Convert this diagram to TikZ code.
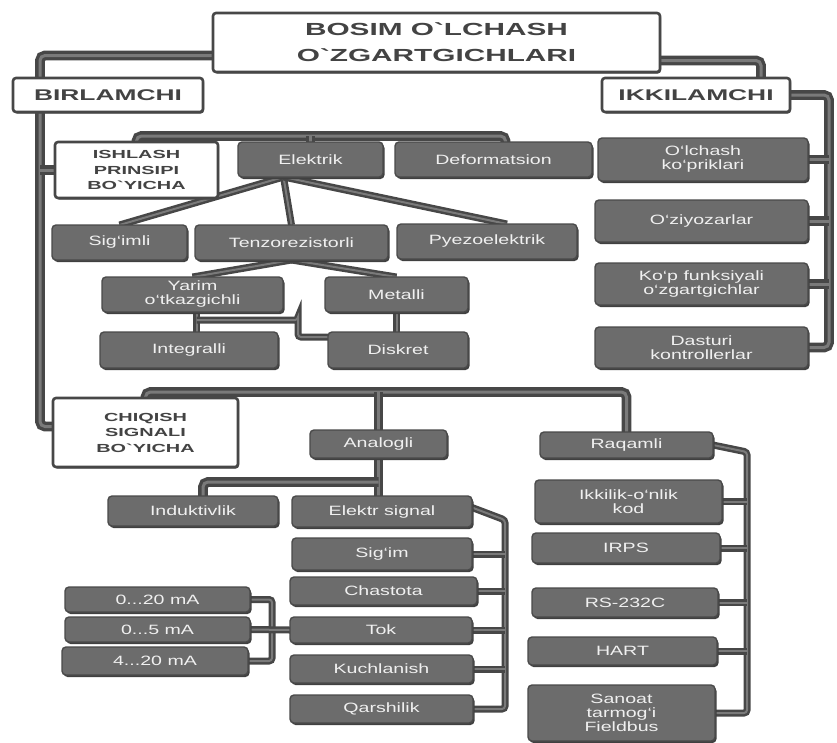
\documentclass[tikz,border=0pt]{standalone}
\usepackage{fontspec}
\setmainfont{Liberation Sans}[FakeStretch=1.45]
\newfontfamily\headfont{Liberation Sans}[FakeStretch=1.7]
\usetikzlibrary{shadows}

\definecolor{boxfill}{HTML}{6C6C6C}
\definecolor{boxedge}{HTML}{4A4A4A}
\definecolor{pipedark}{HTML}{474747}
\definecolor{pipemid}{HTML}{7A7A7A}
\definecolor{inkdark}{HTML}{434343}
\definecolor{boxtext}{HTML}{F0F0F0}

\pgfdeclarelayer{back}
\pgfdeclarelayer{pipes}
\pgfsetlayers{back,pipes,main}

\tikzset{
  gbox/.style={draw=boxedge, fill=boxfill, line width=1.4pt, rounded corners=4pt,
    inner sep=0pt, outer sep=0pt, text=boxtext, align=center,
    font=\fontsize{13.5}{14}\selectfont,
    drop shadow={shadow xshift=1.5pt, shadow yshift=-2pt, fill=black!75, opacity=1}},
  wbox/.style={draw=pipedark, fill=white, line width=2.6pt, rounded corners=3pt,
    inner sep=0pt, outer sep=0pt, text=inkdark, align=center,
    drop shadow={shadow xshift=1pt, shadow yshift=-1.5pt, fill=black!70, opacity=1}},
  pipe/.style={draw=pipedark, line width=3.4pt, double=pipemid, double distance=3pt,
    rounded corners=5pt},
  tube/.style={draw=pipedark, line width=2.5pt, double=pipemid, double distance=2pt,
    rounded corners=3pt},
  bigtitle/.style={font=\headfont\bfseries\fontsize{17.5}{26}\selectfont},
  midtitle/.style={font=\headfont\bfseries\fontsize{15.5}{18}\selectfont},
  smalltitle/.style={font=\headfont\bfseries\fontsize{11.7}{15.5}\selectfont},
}

% box from its corners: style, name, x1, y1, x2, y2, text
\newcommand{\putbox}[7]{%
  \node[#1, minimum width={(#5)-(#3)}, minimum height={(#6)-(#4)}]
    (#2) at ({((#3)+(#5))/2},{((#4)+(#6))/2}) {#7};}

\begin{document}
\begin{tikzpicture}[x=1pt,y=-1pt]
\begin{pgfonlayer}{back}
  \fill[white] (0,0) rectangle (837,742);
\end{pgfonlayer}
\useasboundingbox (0,0) rectangle (837,742);

% headers
\putbox{wbox,bigtitle}{title}{213}{13}{660}{72}{BOSIM O`LCHASH\\O`ZGARTGICHLARI}
\putbox{wbox,midtitle}{birl}{13}{78}{203}{112}{BIRLAMCHI}
\putbox{wbox,midtitle}{ikki}{602}{78}{790}{112}{IKKILAMCHI}
\putbox{wbox,smalltitle}{ishlash}{55}{142}{218}{198}{ISHLASH\\PRINSIPI\\BO`YICHA}
\putbox{wbox,smalltitle}{chiqish}{53}{398}{238}{467}{CHIQISH\\SIGNALI\\BO`YICHA}

% operating principle
\putbox{gbox}{elektrik}{238}{142}{383}{177}{Elektrik}
\putbox{gbox}{deform}{395}{142}{592}{177}{Deformatsion}
\putbox{gbox}{sigimli}{52}{225}{187}{260}{Sig`imli}
\putbox{gbox}{tenzo}{195}{225}{388}{260}{Tenzorezistorli}
\putbox{gbox}{pyezo}{397}{224}{577}{259}{Pyezoelektrik}
\putbox{gbox}{yarim}{102}{277}{283}{312}{Yarim\\o`tkazgichli}
\putbox{gbox}{metalli}{325}{277}{468}{312}{Metalli}
\putbox{gbox}{integ}{100}{332}{278}{368}{Integralli}
\putbox{gbox}{diskret}{328}{332}{468}{368}{Diskret}

% secondary
\putbox{gbox}{olchash}{598}{138}{808}{181}{O`lchash\\ko`priklari}
\putbox{gbox}{ziyo}{595}{200}{808}{242}{O`ziyozarlar}
\putbox{gbox}{kop}{595}{263}{808}{305}{Ko`p funksiyali\\o`zgartgichlar}
\putbox{gbox}{dasturi}{595}{327}{808}{368}{Dasturi\\kontrollerlar}

% output signal
\putbox{gbox}{analogli}{310}{430}{447}{458}{Analogli}
\putbox{gbox}{raqamli}{540}{432}{713}{458}{Raqamli}
\putbox{gbox}{induk}{108}{496}{278}{526}{Induktivlik}
\putbox{gbox}{elsig}{292}{496}{472}{527}{Elektr signal}
\putbox{gbox}{sigim}{292}{538}{472}{570}{Sig`im}
\putbox{gbox}{chast}{290}{577}{477}{605}{Chastota}
\putbox{gbox}{tok}{290}{617}{472}{643}{Tok}
\putbox{gbox}{kuch}{290}{655}{473}{683}{Kuchlanish}
\putbox{gbox}{qarsh}{290}{695}{473}{723}{Qarshilik}
\putbox{gbox}{a020}{65}{587}{250}{612}{0...20 mA}
\putbox{gbox}{a05}{65}{617}{250}{642}{0...5 mA}
\putbox{gbox}{a420}{62}{647}{248}{675}{4...20 mA}
\putbox{gbox}{ikkilik}{535}{480}{722}{523}{Ikkilik-o`nlik\\kod}
\putbox{gbox}{irps}{532}{533}{720}{563}{IRPS}
\putbox{gbox}{rs}{532}{588}{718}{617}{RS-232C}
\putbox{gbox}{hart}{528}{637}{717}{665}{HART}
\putbox{gbox}{sanoat}{528}{685}{715}{741}{Sanoat\\tarmog`i\\Fieldbus}

% bus positions
\coordinate (lbus) at (40,0);
\coordinate (rbus) at (829,0);
\coordinate (ikx) at (761,0);
\coordinate (bar1) at (0,136);
\coordinate (bar2) at (0,392);
\coordinate (bar3) at (0,482);
\coordinate (ebus) at (505,0);
\coordinate (ebtop) at (505,520);
\coordinate (qbus) at (747,0);
\coordinate (rqtop) at (747,452);
\coordinate (cb) at (272,0);
\coordinate (kink) at (298,320);
\coordinate (dn) at ([xshift=12pt]deform.north);
\coordinate (ys) at ([xshift=4pt]yarim.south);
\coordinate (ik) at ([xshift=10pt]induk.north);
\coordinate (es) at ([xshift=-27pt]elektrik.south);
\coordinate (pz) at ([xshift=20pt]pyezo.north);

\begin{pgfonlayer}{pipes}
  % top level
  \draw[pipe] ([yshift=-13pt]title.west) -| (lbus |- birl.north);
  \draw[pipe] ([yshift=-18pt]title.east) -| (ikx |- ikki.north);
  % secondary column
  \draw[pipe] (ikki.east) -| (rbus |- dasturi.east) -- (dasturi.east);
  \draw[pipe] (olchash.east) -- (olchash.east -| rbus);
  \draw[pipe] (ziyo.east) -- (ziyo.east -| rbus);
  \draw[pipe] (kop.east) -- (kop.east -| rbus);
  % primary trunk
  \draw[pipe] (lbus |- birl.south) |- ([yshift=6pt]chiqish.west);
  \draw[pipe] (ishlash.west) -- (ishlash.west -| lbus);
  % operating principle
  \draw[pipe] (ishlash.north) |- (dn |- bar1) -- (dn);
  \draw[pipe] (elektrik.north) -- (elektrik.north |- bar1);
  \draw[tube] (es) -- (sigimli.north);
  \draw[tube] (es) -- (tenzo.north);
  \draw[tube] (es) -- (pz);
  \draw[tube] (tenzo.south) -- (yarim.north);
  \draw[tube] (tenzo.south) -- (metalli.north);
  \draw[tube] (ys) -- (ys |- integ.north);
  \draw[tube] ([yshift=-8pt]ys) -| (kink) |- ([yshift=13pt]diskret.west);
  \draw[tube] (metalli.south) -- (metalli.south |- diskret.north);
  % output signal
  \draw[pipe] (chiqish.north) |- (raqamli.north |- bar2) -- (raqamli.north);
  \draw[pipe] (analogli.north) -- (analogli.north |- bar2);
  \draw[pipe] (analogli.south) -- (analogli.south |- elsig.north);
  \draw[pipe] (analogli.south |- bar3) -| (ik);
  \draw[tube] ([yshift=4pt]elsig.east) -- (ebtop) |- (qarsh.east);
  \draw[tube] (sigim.east) -- (sigim.east -| ebus);
  \draw[tube] (chast.east) -- (chast.east -| ebus);
  \draw[tube] (tok.east) -- (tok.east -| ebus);
  \draw[tube] (kuch.east) -- (kuch.east -| ebus);
  \draw[tube] (raqamli.east) -- (rqtop) |- (sanoat.east);
  \draw[tube] (ikkilik.east) -- (ikkilik.east -| qbus);
  \draw[tube] (irps.east) -- (irps.east -| qbus);
  \draw[tube] (rs.east) -- (rs.east -| qbus);
  \draw[tube] (hart.east) -- (hart.east -| qbus);
  % current ranges
  \draw[tube] (a020.east) -| (cb |- a420.east) -- (a420.east);
  \draw[tube] (tok.west) -- (a05.east);
\end{pgfonlayer}
\end{tikzpicture}
\end{document}
